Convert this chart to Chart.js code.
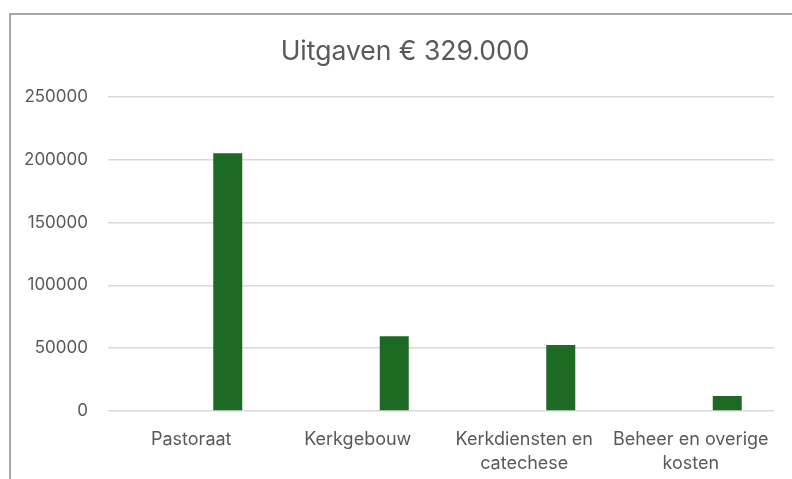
<!DOCTYPE html>
<html>
<head>
<meta charset="utf-8">
<script src="https://cdn.jsdelivr.net/npm/chart.js@4/dist/chart.umd.min.js"></script>
<style>
    html, body { margin: 0; padding: 0; background: #ffffff; }
    #frame {
        position: absolute;
        left: 9px;
        top: 13px;
        width: 800px;
        height: 480px;
        border-left: 2px solid #a6a6a6;
        border-top: 2px solid #a6a6a6;
    }
    #wrap { position: absolute; left: 0; top: 0; width: 792px; height: 479px; }
</style>
</head>
<body>
<div id="frame"></div>
<div id="wrap"><canvas id="expensesChart" width="792" height="479"></canvas></div>
<script>
    const categories = [
        "Pastoraat",
        "Kerkgebouw",
        ["Kerkdiensten en", "catechese"],
        ["Beheer en overige", "kosten"],
    ];

    // first series is empty in the original sheet
    const emptySeries = [null, null, null, null];
    const expenses = [205000, 59500, 52500, 12000];

    const yTicks = [0, 50000, 100000, 150000, 200000, 250000];

    const TEXT = "#595959";
    const GREEN = "#1d6a25";

    // the left padding only moves the title; let the y labels use the full left edge
    const unclipYLabels = {
        id: "unclipYLabels",
        afterLayout(chart) {
            chart.scales.y.left = 0;
        },
    };

    const ctx = document.getElementById("expensesChart");

    new Chart(ctx, {
        type: "bar",

        data: {
            labels: categories,

            datasets: [
                {
                    label: "",
                    data: emptySeries,
                    backgroundColor: GREEN,
                },

                {
                    label: "Uitgaven",
                    data: expenses,
                    backgroundColor: GREEN,
                },
            ],
        },

        plugins: [unclipYLabels],

        options: {
            responsive: false,
            animation: false,

            datasets: {
                bar: {
                    categoryPercentage: 0.877,
                    barPercentage: 0.397,
                },
            },

            layout: {
                padding: { left: 36, right: 18, top: 0, bottom: 0 },
            },

            plugins: {
                legend: { display: false },
                tooltip: { enabled: false },

                title: {
                    display: true,
                    text: "Uitgaven € 329.000",
                    color: TEXT,
                    font: { family: "Inter", size: 26.5, weight: "normal" },
                    padding: { top: 36, bottom: 29 },
                },
            },

            scales: {
                x: {
                    afterFit: function (scale) {
                        scale.height = 68;
                    },

                    grid: { display: false },
                    border: { display: false },

                    ticks: {
                        color: TEXT,
                        padding: 8,
                        maxRotation: 0,
                        autoSkip: false,
                        font: { family: "Inter", size: 18, lineHeight: 1.36 },
                    },
                },

                y: {
                    min: 0,
                    max: 250000,
                    afterFit: function (scale) {
                        scale.width = 72;
                    },
                    afterBuildTicks: function (scale) {
                        scale.ticks = yTicks.map((v) => ({ value: v }));
                    },

                    grid: {
                        color: "#d9d9d9",
                        lineWidth: 1.5,
                        drawTicks: false,
                    },
                    border: { display: false },

                    ticks: {
                        color: TEXT,
                        padding: 20,
                        font: { family: "Inter", size: 17 },
                        callback: function (value) {
                            return String(value);
                        },
                    },
                },
            },
        },
    });
</script>
</body>
</html>
